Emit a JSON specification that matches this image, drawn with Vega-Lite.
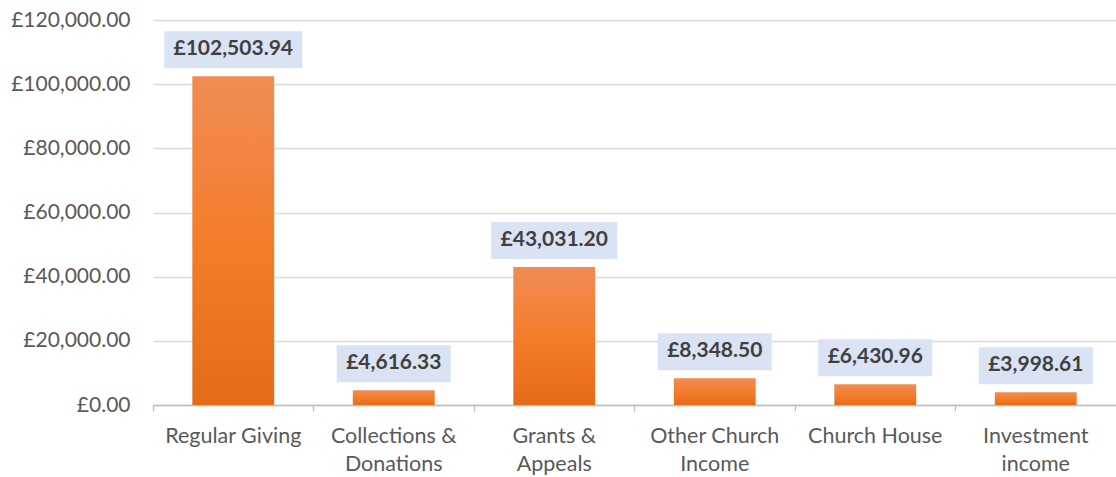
{
  "$schema": "https://vega.github.io/schema/vega-lite/v6.json",
  "width": 963,
  "height": 385,
  "autosize": {"type": "none"},
  "padding": {"left": 153, "top": 20, "right": 0, "bottom": 72},
  "background": "white",
  "config": {
    "view": {"stroke": null},
    "font": "Lato",
    "locale": {"number": {"decimal": ".", "thousands": ",", "grouping": [3], "currency": ["£", ""]}}
  },
  "data": {
    "values": [
      {"category": "Regular Giving", "amount": 102503.94},
      {"category": "Collections & Donations", "amount": 4616.33},
      {"category": "Grants & Appeals", "amount": 43031.20},
      {"category": "Other Church Income", "amount": 8348.50},
      {"category": "Church House", "amount": 6430.96},
      {"category": "Investment income", "amount": 3998.61}
    ]
  },
  "encoding": {
    "x": {
      "field": "category", "type": "nominal", "sort": null,
      "scale": {"paddingInner": 0, "paddingOuter": 0},
      "axis": {
        "title": null, "labelAngle": 0, "bandPosition": 0,
        "domainColor": "#bfbfbf", "domainWidth": 1.3, "tickColor": "#bfbfbf", "tickSize": 6, "tickWidth": 1.3,
        "labelFontSize": 21.5, "labelColor": "#595959", "labelPadding": 14, "labelLineHeight": 28,
        "labelBaseline": "top",
        "labelExpr": "datum.label == 'Collections & Donations' ? ['Collections &', 'Donations'] : datum.label == 'Grants & Appeals' ? ['Grants &', 'Appeals'] : datum.label == 'Other Church Income' ? ['Other Church', 'Income'] : datum.label == 'Investment income' ? ['Investment', 'income'] : datum.label",
        "grid": false
      }
    },
    "y": {
      "field": "amount", "type": "quantitative",
      "scale": {"domain": [0, 120000], "nice": false},
      "axis": {
        "title": null, "values": [0, 20000, 40000, 60000, 80000, 100000, 120000],
        "format": "$,.2f", "domain": false, "ticks": false,
        "labelFontSize": 21, "labelColor": "#595959", "labelPadding": 23,
        "gridColor": "#d9d9d9", "gridWidth": 1.3
      }
    }
  },
  "layer": [
    {
      "mark": {
        "type": "bar",
        "width": {"band": 0.51},
        "color": {
          "gradient": "linear", "x1": 0, "y1": 0, "x2": 0, "y2": 1,
          "stops": [
            {"offset": 0, "color": "#f08c55"},
            {"offset": 0.5, "color": "#f47d2b"},
            {"offset": 1, "color": "#e46b19"}
          ]
        }
      }
    },
    {
      "mark": {"type": "bar", "color": "#dae3f3", "yOffset": -8, "y2Offset": -45},
      "encoding": {
        "y2": {"field": "amount"},
        "size": {
          "field": "amount", "type": "quantitative",
          "scale": {"type": "threshold", "domain": [10000, 100000], "range": [114, 126, 138]},
          "legend": null
        }
      }
    },
    {
      "mark": {"type": "text", "dy": -27, "baseline": "middle", "fontSize": 21, "fontWeight": "bold", "color": "#404040"},
      "encoding": {
        "text": {"field": "amount", "type": "quantitative", "format": "$,.2f"}
      }
    }
  ]
}
